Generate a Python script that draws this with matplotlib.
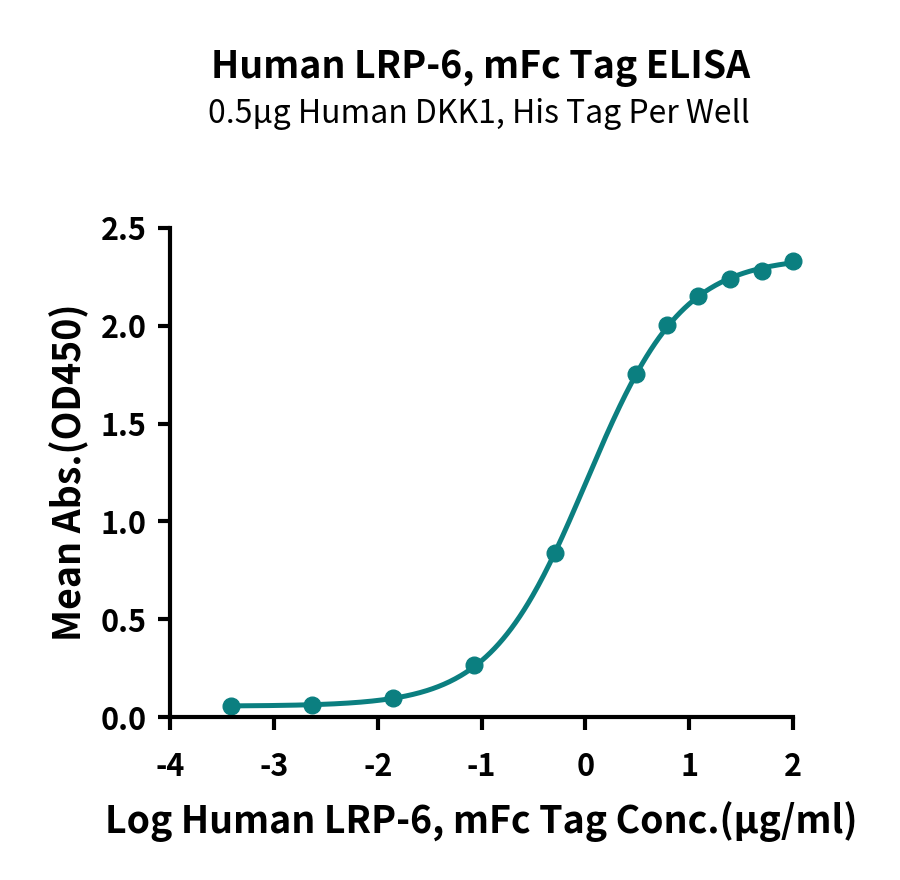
import matplotlib
matplotlib.use("Agg")
import matplotlib.pyplot as plt
import numpy as np

# данные
log_conc = [-3.41, -2.63, -1.85, -1.07, -0.29, 0.49, 0.79, 1.09, 1.39, 1.70, 2.00]
mean_abs = [0.056, 0.061, 0.097, 0.266, 0.838, 1.754, 2.004, 2.150, 2.240, 2.280, 2.330]

title = "Human LRP-6, mFc Tag ELISA"
subtitle = "0.5µg Human DKK1, His Tag Per Well"
xlabel = "Log Human LRP-6, mFc Tag Conc.(µg/ml)"
ylabel = "Mean Abs.(OD450)"
color = "#0b7f80"

plt.rcParams['font.family'] = ['Noto Sans CJK SC', 'DejaVu Sans']
plt.rcParams['axes.unicode_minus'] = False

x = np.array(log_conc)
y = np.array(mean_abs)


# 4PL аппроксимация: перебор logEC50 и наклона, низ/верх - МНК
def fit_4pl(x, y):
    best = None
    for c in np.linspace(-1.5, 1.5, 301):
        for h in np.linspace(0.3, 3.0, 271):
            s = 1.0 / (1.0 + 10 ** ((c - x) * h))
            A = np.column_stack([1 - s, s])
            coef, *_ = np.linalg.lstsq(A, y, rcond=None)
            err = np.sum((A @ coef - y) ** 2)
            if best is None or err < best[0]:
                best = (err, coef[0], coef[1], c, h)
    return best[1:]


bottom, top, c50, hill = fit_4pl(x, y)
xf = np.linspace(x.min(), x.max(), 400)
yf = bottom + (top - bottom) / (1 + 10 ** ((c50 - xf) * hill))

fig = plt.figure(figsize=[9, 8.8], dpi=100)
ax = fig.add_axes([0.189, 0.185, 0.692, 0.556])

ax.plot(xf, yf, color=color, lw=3.6, solid_capstyle='round', clip_on=False)
ax.plot(x, y, 'o', color=color, ms=12, mec=color, clip_on=False)

ax.set_xlim(-4, 2)
ax.set_ylim(0, 2.5)
ax.set_xticks([-4, -3, -2, -1, 0, 1, 2])
ax.set_yticks([0, 0.5, 1.0, 1.5, 2.0, 2.5])
ax.set_yticklabels(["0.0", "0.5", "1.0", "1.5", "2.0", "2.5"])

for s in ['top', 'right']:
    ax.spines[s].set_visible(False)
for s in ['left', 'bottom']:
    ax.spines[s].set_linewidth(3)
ax.tick_params(width=3, length=9, labelsize=22, pad=8)
ax.tick_params(axis='x', pad=15)
for lab in ax.get_xticklabels() + ax.get_yticklabels():
    lab.set_fontweight('bold')

ax.set_xlabel(xlabel, fontsize=27, fontweight='bold', labelpad=13)
ax.set_ylabel(ylabel, fontsize=27, fontweight='bold', labelpad=8)

fig.text(0.534, 0.923, title, ha='center', va='center', fontsize=27, fontweight='bold')
fig.text(0.532, 0.870, subtitle, ha='center', va='center', fontsize=23)

plt.savefig("out.png", dpi=100)
